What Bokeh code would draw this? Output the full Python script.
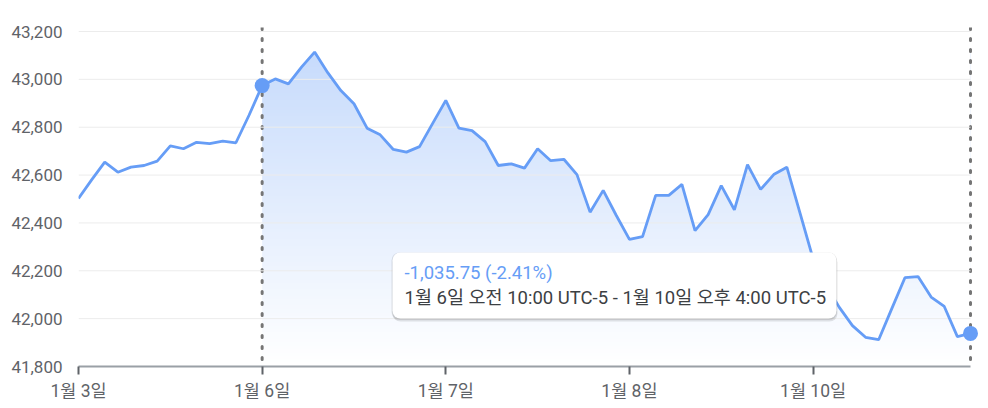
import numpy as np
from bokeh.plotting import figure
from bokeh.models import (Range1d, FixedTicker, NumeralTickFormatter, Span,
                          BoxAnnotation, Label)
from bokeh.embed import file_html
from bokeh.resources import INLINE

# ---------------- data ----------------
day_labels = ["1월 3일", "1월 6일", "1월 7일", "1월 8일", "1월 10일"]
jan3 = [42502, 42580, 42654, 42612, 42633, 42640, 42658, 42722, 42710, 42737,
        42731, 42742, 42735, 42850]
jan6 = [42974.00, 43002, 42981, 43051, 43114, 43028, 42953, 42898, 42796, 42768,
        42707, 42696, 42719, 42816]
jan7 = [42912, 42796, 42786, 42740, 42640, 42647, 42629, 42710, 42660, 42666,
        42602, 42445, 42536, 42431]
jan8 = [42331, 42343, 42515, 42515, 42561, 42368, 42435, 42556, 42455, 42644,
        42540, 42602, 42633, 42442]
jan10 = [42250, 42140, 42047, 41971, 41922, 41912, 42042, 42171, 42176, 42090,
         42051, 41925, 41938.25]
days = [jan3, jan6, jan7, jan8, jan10]
y_ticks = [41800, 42000, 42200, 42400, 42600, 42800, 43000, 43200]
sel_start_text = "1월 6일 오전 10:00 UTC-5"
sel_end_text = "1월 10일 오후 4:00 UTC-5"

prices = [v for d in days for v in d]
n = len(prices)
x = list(range(n))
day_starts = []
acc = 0
for d in days:
    day_starts.append(acc)
    acc += len(d)
s_idx = day_starts[1]          # selection starts at first point of 1월 6일
e_idx = n - 1

# ---------------- layout ----------------
FL, FT = 78, 27                 # frame left / top
DATA_W = 892                    # px from first to last point
EXTRA_R = 8                     # room for end marker
FRAME_W = DATA_W + EXTRA_R
FRAME_H = 339
px_idx = DATA_W / (n - 1)
y0 = y_ticks[0]
px_val = 335 / (y_ticks[-1] - y_ticks[0])
y1 = y_ticks[-1] + 4 / px_val
xmax = (n - 1) + EXTRA_R / px_idx

def X(page_x):
    return (page_x - FL) / px_idx

def Y(page_y):
    return y1 - (page_y - FT) / px_val

FONT = "Roboto, 'Noto Sans CJK KR'"
BLUE = "#669df6"

p = figure(frame_width=FRAME_W, frame_height=FRAME_H,
           x_range=Range1d(0, xmax), y_range=Range1d(y0, y1),
           output_backend="svg", toolbar_location=None,
           min_border_left=FL, min_border_top=FT,
           min_border_right=2, min_border_bottom=32)
p.outline_line_color = None
p.xgrid.visible = False
p.ygrid.visible = False
p.background_fill_color = "white"
p.border_fill_color = "white"

# gradient fill under selected range
sel_x = x[s_idx:]
sel_y = prices[s_idx:]
top_val = max(sel_y)
rows = 400
alpha = np.linspace(0.0, 0.37, rows)
img = np.empty((rows, 1), dtype=np.uint32)
view = img.view(dtype=np.uint8).reshape((rows, 1, 4))
view[:, 0, 0] = 102
view[:, 0, 1] = 157
view[:, 0, 2] = 246
view[:, 0, 3] = (alpha * 255).astype(np.uint8)
p.image_rgba(image=[img], x=s_idx, y=y0, dw=e_idx - s_idx, dh=top_val - y0,
             level="image")
p.varea(x=sel_x, y1=sel_y, y2=[y1] * len(sel_x), fill_color="white",
        level="image")

# gridlines (limited to data extent)
p.multi_line(xs=[[0, n - 1] for _ in y_ticks[1:]],
             ys=[[t, t] for t in y_ticks[1:]],
             line_color="#ececec", line_width=1)

# dotted selection markers
for loc in (s_idx, e_idx):
    sp = Span(location=loc, dimension="height", line_color="#757575",
              line_width=3, line_dash="2 9", line_cap="round")
    sp.level = "underlay"
    p.add_layout(sp)

p.line(x, prices, line_color=BLUE, line_width=2.8)
p.scatter(x=[s_idx, e_idx], y=[prices[s_idx], prices[e_idx]], size=15,
          fill_color=BLUE, line_color=None)

# axes
p.xaxis.ticker = FixedTicker(ticks=day_starts)
p.xaxis.major_label_overrides = {t: lab for t, lab in zip(day_starts, day_labels)}
p.xaxis.bounds = (0, n - 1)
p.xaxis.axis_line_color = "#9aa0a6"
p.xaxis.axis_line_width = 2
p.xaxis.major_tick_line_color = "#5f6368"
p.xaxis.major_tick_line_width = 2
p.xaxis.major_tick_out = 8
p.xaxis.major_tick_in = 0
p.xaxis.minor_tick_line_color = None
p.xaxis.major_label_standoff = 6
p.xaxis.major_label_text_font = FONT
p.xaxis.major_label_text_font_size = "17.5px"
p.xaxis.major_label_text_color = "#5f6368"

p.yaxis.ticker = FixedTicker(ticks=y_ticks)
p.yaxis.formatter = NumeralTickFormatter(format="0,0")
p.yaxis.axis_line_color = None
p.yaxis.major_tick_line_color = None
p.yaxis.minor_tick_line_color = None
p.yaxis.major_label_standoff = 10
p.yaxis.major_label_text_font = FONT
p.yaxis.major_label_text_font_size = "17px"
p.yaxis.major_label_text_color = "#5f6368"

# tooltip
diff = prices[e_idx] - prices[s_idx]
pct = diff / prices[s_idx] * 100
line1 = f"{diff:,.2f} ({pct:.2f}%)"
line2 = f"{sel_start_text} - {sel_end_text}"

bl, br, bt, bb = 392, 836, 252, 318
shadow = BoxAnnotation(left=X(bl), right=X(br + 1), top=Y(bt + 2), bottom=Y(bb + 3),
                       fill_color="#000000", fill_alpha=0.10, line_color=None,
                       border_radius=8)
shadow2 = BoxAnnotation(left=X(bl - 1), right=X(br + 0.5), top=Y(bt), bottom=Y(bb + 1.5),
                        fill_color="#000000", fill_alpha=0.10, line_color=None,
                        border_radius=8)
box = BoxAnnotation(left=X(bl), right=X(br), top=Y(bt), bottom=Y(bb),
                    fill_color="white", fill_alpha=1.0, line_color=None,
                    border_radius=8)
p.add_layout(shadow)
p.add_layout(shadow2)
p.add_layout(box)
p.add_layout(Label(x=X(404), y=Y(272), text=line1, text_font=FONT,
                   text_font_size="18.5px", text_color=BLUE,
                   text_baseline="middle", text_align="left"))
p.add_layout(Label(x=X(404), y=Y(297), text=line2, text_font=FONT,
                   text_font_size="18.5px", text_color="#3c4043",
                   text_baseline="middle", text_align="left"))

open("out.html", "w").write(file_html(p, INLINE))
